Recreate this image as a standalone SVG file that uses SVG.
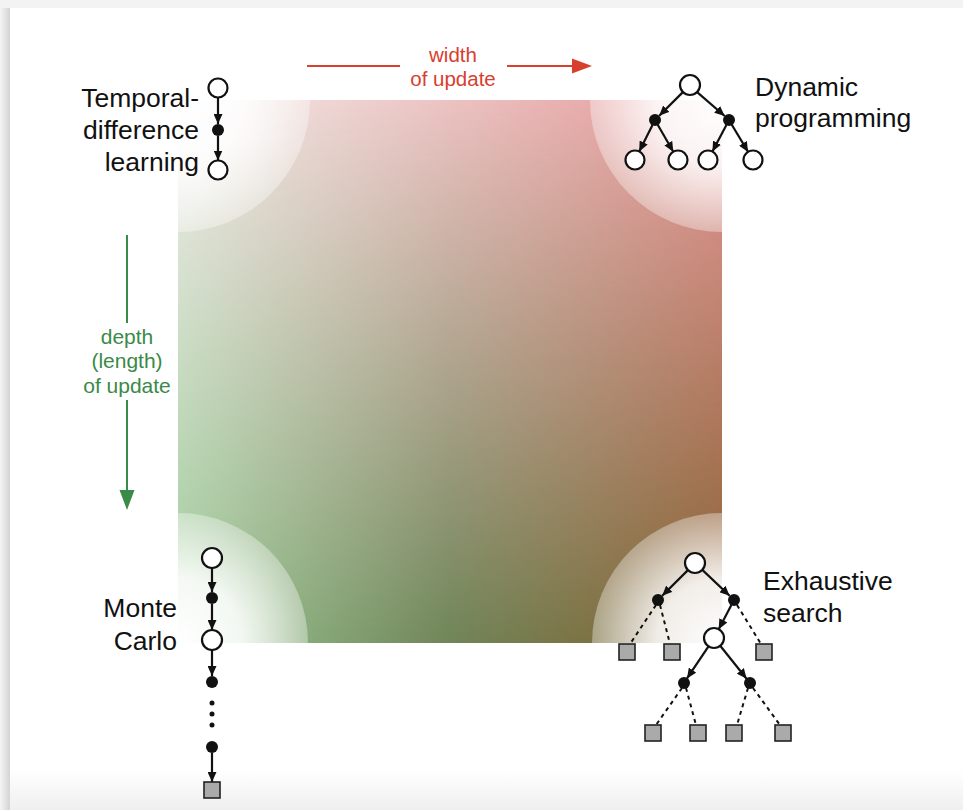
<svg xmlns="http://www.w3.org/2000/svg" width="963" height="810" viewBox="0 0 963 810">
<defs>
<style>
.lbl{font-family:"Liberation Sans",Arial,sans-serif;font-size:26.5px;fill:#111}
.red{font-family:"Liberation Sans",Arial,sans-serif;font-size:20.5px;fill:#d8402e}
.grn{font-family:"Liberation Sans",Arial,sans-serif;font-size:21px;fill:#3a8a48}
.open{fill:#fff;stroke:#111;stroke-width:2.2}
.dot{fill:#111}
.sq{fill:#aaa;stroke:#222;stroke-width:1.6}
.e{stroke:#111;stroke-width:2.2;fill:none;marker-end:url(#ah)}
.d{stroke:#111;stroke-width:2;fill:none;stroke-dasharray:4 4}
</style>
<marker id="ah" markerUnits="userSpaceOnUse" markerWidth="10" markerHeight="9" refX="10" refY="4.5" orient="auto">
<path d="M0,0 L10,4.5 L0,9 z" fill="#111"/>
</marker>
<linearGradient id="topg" x1="0" y1="0" x2="1" y2="0">
<stop offset="0" stop-color="#f2ecea"/>
<stop offset="1" stop-color="#e6999a"/>
</linearGradient>
<linearGradient id="botg" x1="0" y1="0" x2="1" y2="0">
<stop offset="0" stop-color="#9ccb98"/>
<stop offset="0.5" stop-color="#6f8558"/>
<stop offset="1" stop-color="#86602f"/>
</linearGradient>
<linearGradient id="vm" x1="0" y1="0" x2="0" y2="1">
<stop offset="0" stop-color="#000"/>
<stop offset="1" stop-color="#fff"/>
</linearGradient>
<mask id="vmask" maskUnits="userSpaceOnUse" x="178" y="100" width="544" height="543">
<rect x="178" y="100" width="544" height="543" fill="url(#vm)"/>
</mask>
<radialGradient id="cw">
<stop offset="0" stop-color="#fff" stop-opacity="1"/>
<stop offset="0.5" stop-color="#fff" stop-opacity="0.88"/>
<stop offset="1" stop-color="#fff" stop-opacity="0.35"/>
</radialGradient>
<clipPath id="sqclip"><rect x="178" y="100" width="544" height="543"/></clipPath>
<linearGradient id="leftsh" x1="0" y1="0" x2="1" y2="0">
<stop offset="0" stop-color="#f4f4f4"/>
<stop offset="1" stop-color="#d4d4d4"/>
</linearGradient>
<linearGradient id="page" x1="0" y1="0" x2="0" y2="1">
<stop offset="0.95" stop-color="#fff"/>
<stop offset="1" stop-color="#efefef"/>
</linearGradient>
</defs>

<g id="background">
<rect x="0" y="0" width="963" height="810" fill="#f3f3f3"/>
<rect x="0" y="8" width="10" height="802" fill="url(#leftsh)"/>
<rect x="10" y="8" width="953" height="802" fill="url(#page)"/>
</g>

<g id="space">
<rect x="178" y="100" width="544" height="543" fill="url(#topg)"/>
<rect x="178" y="100" width="544" height="543" fill="url(#botg)" mask="url(#vmask)"/>
<g clip-path="url(#sqclip)">
<circle cx="178" cy="100" r="132" fill="url(#cw)"/>
<circle cx="722" cy="100" r="132" fill="url(#cw)"/>
<circle cx="178" cy="643" r="130" fill="url(#cw)"/>
<circle cx="722" cy="643" r="130" fill="url(#cw)"/>
</g>
</g>

<g id="width-axis">
<line x1="307" y1="66" x2="400" y2="66" stroke="#d8402e" stroke-width="2"/>
<line x1="507" y1="66" x2="574" y2="66" stroke="#d8402e" stroke-width="2"/>
<polygon points="572,58.5 592,66 572,73.5" fill="#d8402e"/>
<text class="red" x="453" y="62" text-anchor="middle">width</text>
<text class="red" x="453" y="86" text-anchor="middle">of update</text>
</g>

<g id="depth-axis">
<line x1="127" y1="235" x2="127" y2="323" stroke="#3a8a48" stroke-width="2"/>
<line x1="127" y1="400" x2="127" y2="492" stroke="#3a8a48" stroke-width="2"/>
<polygon points="119.5,490 127,510 134.5,490" fill="#3a8a48"/>
<text class="grn" x="127" y="344" text-anchor="middle">depth</text>
<text class="grn" x="127" y="368" text-anchor="middle">(length)</text>
<text class="grn" x="127" y="393" text-anchor="middle">of update</text>
</g>

<g id="connectors">
<line class="e" x1="218" y1="97.5" x2="218" y2="124"/>
<line class="e" x1="218" y1="136" x2="218" y2="160.5"/>
<line class="e" x1="682.9" y1="92.1" x2="659.2" y2="115.8"/>
<line class="e" x1="697.1" y1="92.1" x2="724.7" y2="116"/>
<line class="e" x1="652.5" y1="124.9" x2="639.2" y2="151.5"/>
<line class="e" x1="657.7" y1="124.8" x2="673.3" y2="151.8"/>
<line class="e" x1="726.4" y1="124.9" x2="712.4" y2="151.6"/>
<line class="e" x1="731.8" y1="124.7" x2="748.1" y2="151.9"/>
<line class="e" x1="212" y1="568" x2="212" y2="592"/>
<line class="e" x1="212" y1="604" x2="212" y2="630"/>
<line class="e" x1="212" y1="650" x2="212" y2="676"/>
<line class="e" x1="212" y1="753" x2="212" y2="782"/>
<line class="e" x1="687.9" y1="570.1" x2="662.2" y2="595.8"/>
<line class="e" x1="702.3" y1="569.9" x2="729.6" y2="595.8"/>
<line class="e" x1="731.4" y1="604.9" x2="718.7" y2="629.2"/>
<line class="e" x1="708.5" y1="646.3" x2="687" y2="678.4"/>
<line class="e" x1="720.2" y1="645.8" x2="746.6" y2="678.7"/>
<line class="d" x1="656" y1="605" x2="630" y2="644"/>
<line class="d" x1="660" y1="605" x2="670" y2="644"/>
<line class="d" x1="737" y1="605" x2="761" y2="644"/>
<line class="d" x1="682" y1="688" x2="656" y2="725"/>
<line class="d" x1="686" y1="688" x2="696" y2="725"/>
<line class="d" x1="748" y1="688" x2="737" y2="725"/>
<line class="d" x1="753" y1="688" x2="780" y2="725"/>
</g>

<g id="td">
<circle class="open" cx="218" cy="88" r="9.5"/>
<circle class="dot" cx="218" cy="130" r="6"/>
<circle class="open" cx="218" cy="170" r="9.5"/>
<text class="lbl" x="199" y="107" text-anchor="end">Temporal-</text>
<text class="lbl" x="199" y="139" text-anchor="end">difference</text>
<text class="lbl" x="199" y="171" text-anchor="end">learning</text>
</g>

<g id="dp">
<circle class="open" cx="690" cy="85" r="10"/>
<circle class="dot" cx="655" cy="120" r="6"/>
<circle class="dot" cx="729" cy="120" r="6"/>
<circle class="open" cx="635" cy="160" r="9.5"/>
<circle class="open" cx="678" cy="160" r="9.5"/>
<circle class="open" cx="708" cy="160" r="9.5"/>
<circle class="open" cx="753" cy="160" r="9.5"/>
<text class="lbl" x="755" y="96">Dynamic</text>
<text class="lbl" x="755" y="127">programming</text>
</g>

<g id="mc">
<circle class="open" cx="212" cy="558" r="10"/>
<circle class="dot" cx="212" cy="598" r="6"/>
<circle class="open" cx="212" cy="640" r="10"/>
<circle class="dot" cx="212" cy="682" r="6"/>
<circle class="dot" cx="212" cy="703" r="2.5"/>
<circle class="dot" cx="212" cy="714" r="2.5"/>
<circle class="dot" cx="212" cy="725" r="2.5"/>
<circle class="dot" cx="212" cy="747" r="6"/>
<rect class="sq" x="204" y="782" width="16" height="16"/>
<text class="lbl" x="177" y="617" text-anchor="end">Monte</text>
<text class="lbl" x="177" y="650" text-anchor="end">Carlo</text>
</g>

<g id="es">
<circle class="open" cx="695" cy="563" r="10"/>
<circle class="dot" cx="658" cy="600" r="6"/>
<circle class="dot" cx="734" cy="600" r="6"/>
<circle class="open" cx="714" cy="638" r="10"/>
<rect class="sq" x="619" y="644" width="16" height="16"/>
<rect class="sq" x="664" y="644" width="16" height="16"/>
<rect class="sq" x="756" y="644" width="16" height="16"/>
<circle class="dot" cx="684" cy="683" r="6"/>
<circle class="dot" cx="750" cy="683" r="6"/>
<rect class="sq" x="645" y="725" width="16" height="16"/>
<rect class="sq" x="690" y="725" width="16" height="16"/>
<rect class="sq" x="726" y="725" width="16" height="16"/>
<rect class="sq" x="775" y="725" width="16" height="16"/>
<text class="lbl" x="763" y="590">Exhaustive</text>
<text class="lbl" x="763" y="622">search</text>
</g>
</svg>
